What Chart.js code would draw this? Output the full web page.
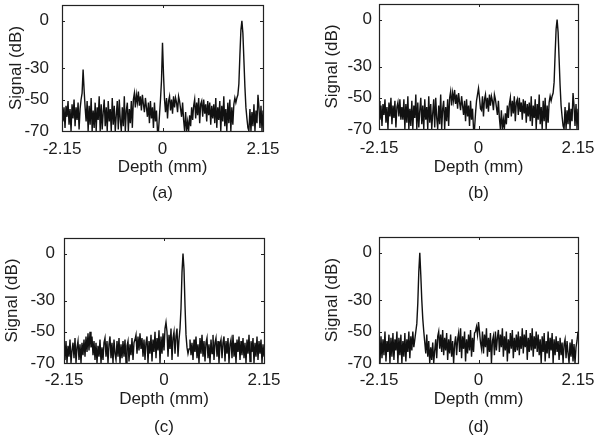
<!DOCTYPE html>
<html>
<head>
<meta charset="utf-8">
<script src="https://cdn.jsdelivr.net/npm/chart.js@4.4.1/dist/chart.umd.min.js"></script>
<style>
  html, body { margin: 0; padding: 0; background: #fff; }
  #wrap { position: relative; width: 600px; height: 441px; }
  canvas { position: absolute; }
</style>
</head>
<body>
<div id="wrap">
  <canvas id="ca" width="300" height="220" style="left:0;top:0;width:300px;height:220px"></canvas>
  <canvas id="cb" width="300" height="220" style="left:300px;top:0;width:300px;height:220px"></canvas>
  <canvas id="cc" width="300" height="221" style="left:0;top:220px;width:300px;height:221px"></canvas>
  <canvas id="cd" width="300" height="221" style="left:300px;top:220px;width:300px;height:221px"></canvas>
</div>
<script>
// ---- data ----
const depthMin = -2.15;
const depthMax = 2.15;
const sampleCount = 201;
const xTickValues = [-2.15, 0, 2.15];
const xTickLabels = ['-2.15', '0', '2.15'];
const yTickValues = [-70, -50, -30, 0];
const yTickLabels = ['-70', '-50', '-30', '0'];
const panelCaptions = ['(a)', '(b)', '(c)', '(d)'];
const xTitle = 'Depth (mm)';
const yTitle = 'Signal (dB)';

const signalA = [
  -52,-64,-55,-68,-54,-61,-51,-66,-56,-70,-53,-62,-50,-67,-55,-63,-52,-69,-56,
  -50,-46,-31,-44,-55,
  -64,-51,-70,-54,-66,-49,-70,-57,-68,-52,-70,-55,-63,-48,-70,-53,-69,-58,-50,-67,-55,-70,-51,-64,-56,-70,-49,-66,-54,-70,-60,-51,-69,-50,-63,-70,-55,-67,-48,-70,-57,-52,-70,-56,-65,-51,-68,
  -50,-46,-55,-47,-52,-45,-54,-48,-57,-47,-53,-58,-49,-55,-61,
  -52,-65,-51,-62,-55,-68,-52,-64,-57,-70,-70,-60,
  -50,-38,-14,-34,-50,
  -58,-49,-62,-51,-48,-57,-50,-59,-48,-55,-49,-52,-58,-48,-51,-56,-61,-52,
  -63,-70,-58,-70,-64,-70,-60,-67,-55,-63,
  -54,-50,-62,-52,-60,-49,-65,-53,-51,-61,-50,-59,-53,-64,-51,-60,-52,-66,-54,-62,
  -53,-65,-49,-68,-55,-63,-51,-70,-54,-64,-48,-67,-56,-70,-52,-65,-50,-70,-55,-66,-53,-49,
  -52,-49,-47,-40,-22,-6,0,-8,-25,-42,-55,-62,-68,
  -70,-56,-70,-58,-67,-53,-70,-57,-65,-47,-55,-68,-54,-70,-57
];

const signalB = [
  -52,-64,-55,-68,-54,-61,-51,-66,-56,-70,-53,-62,-50,-67,-55,-63,-52,-69,-56,
  -53,-62,-51,-64,-56,
  -64,-51,-70,-54,-66,-49,-70,-57,-68,-52,-70,-55,-63,-48,-70,-53,-69,-58,-50,-67,-55,-70,-51,-64,-56,-70,-49,-66,-54,-70,-60,-51,-69,-50,-63,-70,-55,-67,-48,-70,-57,-52,-70,-56,-65,-51,-68,
  -50,-46,-55,-47,-52,-45,-54,-48,-57,-47,-53,-58,-49,-55,-61,
  -52,-65,-51,-62,-55,-68,-52,-64,-57,-70,-70,-60,
  -52,-48,-44,-50,-57,
  -58,-49,-62,-51,-48,-57,-50,-59,-48,-55,-49,-52,-58,-48,-51,-56,-61,-52,
  -63,-70,-58,-70,-64,-70,-60,-67,-55,-63,
  -54,-50,-62,-52,-60,-49,-65,-53,-51,-61,-50,-59,-53,-64,-51,-60,-52,-66,-54,-62,
  -53,-65,-49,-68,-55,-63,-51,-70,-54,-64,-48,-67,-56,-70,-52,-65,-50,-70,-55,-66,-53,-49,
  -52,-49,-47,-40,-22,-6,0,-8,-25,-42,-55,-62,-68,
  -70,-56,-70,-58,-67,-53,-70,-57,-65,-47,-55,-68,-54,-70,-57
];

const signalC = [
  -58,-68,-56,-70,-59,-66,-55,-70,-62,-57,-67,-54,-70,-60,-56,-68,-58,-70,-57,-65,
  -55,-66,-53,-63,-51,-62,-50,-60,-53,-65,-56,-68,-57,-70,-59,-66,-55,-70,-60,-68,
  -57,-54,-66,-56,-70,-58,-53,-67,-57,-70,-55,-64,-68,-56,-66,-54,-70,-58,-67,-56,
  -66,-55,-70,-59,-56,-69,-58,-65,-54,-68,-57,-55,-52,-64,-53,-62,-51,-61,-54,-66,
  -55,-68,-57,-53,-70,-56,-64,-52,-69,-55,-63,-50,-67,-54,-62,-49,-70,-53,-64,-51,
  -62,-48,-44,-50,-66,-52,-61,-48,-68,-54,-50,-64,-53,-48,-66,-55,-48,-35,-12,0,
  -10,-33,-52,-60,-64,-61,-55,-65,-57,-68,-55,-63,-53,-67,-58,-70,-54,-64,-52,-66,
  -56,-69,-57,-54,-67,-58,-70,-55,-64,-52,-68,-57,-54,-66,-56,-70,-58,-55,-67,-57,
  -53,-69,-56,-64,-54,-70,-58,-55,-67,-52,-66,-57,-70,-55,-63,-53,-68,-56,-65,-54,
  -67,-57,-70,-55,-64,-52,-69,-56,-63,-54,-70,-57,-66,-53,-68,-56,-64,-55,-70,-58,-66
];

const signalD = [
  -58,-70,-53,-67,-55,-65,-50,-69,-56,-63,-52,-70,-54,-66,-51,-68,-55,-62,-50,-70,
  -54,-65,-52,-70,-56,-66,-51,-69,-55,-63,-50,-67,-53,-62,-50,-60,-55,-50,-45,-32,
  -12,0,-14,-30,-42,-50,-57,-64,-52,-66,-56,-70,-60,-68,-57,-70,-62,-55,-67,-53,
  -50,-61,-52,-63,-49,-65,-54,-62,-51,-68,-55,-64,-52,-66,-56,-70,-58,-53,-65,-55,
  -51,-63,-48,-67,-53,-61,-50,-69,-55,-64,-52,-62,-49,-66,-54,-63,-51,-50,-47,-52,
  -44,-50,-57,-61,-50,-64,-52,-60,-48,-66,-54,-63,-51,-70,-56,-53,-65,-50,-62,-54,
  -49,-63,-52,-60,-48,-66,-53,-62,-50,-69,-55,-64,-51,-61,-49,-67,-54,-63,-52,-62,
  -50,-65,-53,-61,-48,-64,-52,-60,-49,-68,-54,-63,-51,-62,-48,-66,-53,-61,-50,-63,
  -52,-65,-55,-70,-53,-63,-51,-69,-56,-64,-50,-67,-54,-62,-51,-70,-55,-65,-53,-63,
  -56,-68,-54,-65,-57,-70,-58,-55,-67,-56,-64,-70,-57,-66,-55,-69,-58,-70,-60,-56,-50
];

// ---- layout / style per panel ----
const panels = [
  { id: 'ca', data: signalA, cap: panelCaptions[0], H: 220, left: 62, right: 263, top: 5,  bottom: 131, yTitlePad: 6,  yTickPad: 13, xTickPad: 8, lh: 26, xTitlePad: 14 },
  { id: 'cb', data: signalB, cap: panelCaptions[1], H: 220, left: 79, right: 278, top: 4,  bottom: 129, yTitlePad: 22, yTickPad: 7,  xTickPad: 9, lh: 26, xTitlePad: 14 },
  { id: 'cc', data: signalC, cap: panelCaptions[2], H: 221, left: 64, right: 264, top: 18, bottom: 143, yTitlePad: 2,  yTickPad: 9,  xTickPad: 7, lh: 28, xTitlePad: 0 },
  { id: 'cd', data: signalD, cap: panelCaptions[3], H: 221, left: 79, right: 278, top: 17, bottom: 143, yTitlePad: 22, yTickPad: 7,  xTickPad: 7, lh: 28, xTitlePad: 0 }
];

const FONT = "'Liberation Sans', Arial, Helvetica, sans-serif";
const TEXT = '#1c1c1c';

const frameAndTicks = {
  id: 'frameAndTicks',
  afterDatasetsDraw(chart) {
    const { ctx, chartArea: a, scales } = chart;
    ctx.save();
    ctx.strokeStyle = '#222';
    ctx.lineWidth = 1;
    ctx.beginPath();
    const tl = 3;
    scales.x.ticks.forEach(t => {
      const px = Math.round(scales.x.getPixelForValue(t.value)) + 0.5;
      ctx.moveTo(px, a.bottom); ctx.lineTo(px, a.bottom - tl);
      ctx.moveTo(px, a.top); ctx.lineTo(px, a.top + tl);
    });
    scales.y.ticks.forEach(t => {
      const py = Math.round(scales.y.getPixelForValue(t.value)) + 0.5;
      ctx.moveTo(a.left, py); ctx.lineTo(a.left + tl, py);
      ctx.moveTo(a.right, py); ctx.lineTo(a.right - tl, py);
    });
    ctx.stroke();
    ctx.lineWidth = 1.2;
    ctx.strokeRect(Math.round(a.left) + 0.5, Math.round(a.top) + 0.5,
                   Math.round(a.right - a.left), Math.round(a.bottom - a.top));
    ctx.restore();
  }
};

const step = (depthMax - depthMin) / (sampleCount - 1);

panels.forEach(p => {
  const points = p.data.map((v, i) => ({ x: depthMin + i * step, y: v }));
  new Chart(document.getElementById(p.id), {
    type: 'line',
    data: {
      datasets: [{
        data: points,
        borderColor: '#111',
        borderWidth: 1.4,
        pointRadius: 0,
        tension: 0,
        fill: false
      }]
    },
    options: {
      responsive: false,
      animation: false,
      events: [],
      layout: { padding: { left: 0, right: 300 - p.right, top: p.top, bottom: 0 } },
      plugins: { legend: { display: false }, tooltip: { enabled: false }, title: { display: false } },
      scales: {
        x: {
          type: 'linear',
          min: depthMin,
          max: depthMax,
          grid: { display: false, drawTicks: false },
          border: { display: false },
          afterBuildTicks: s => { s.ticks = xTickValues.map(v => ({ value: v })); },
          afterFit: s => { s.height = p.H - p.bottom; s.paddingLeft = 0; s.paddingRight = 0; },
          ticks: {
            autoSkip: false,
            maxRotation: 0,
            padding: p.xTickPad,
            color: TEXT,
            font: { family: FONT, size: 17 },
            callback: (v, i) => xTickLabels[i]
          },
          title: {
            display: true,
            text: [xTitle, p.cap],
            color: TEXT,
            font: { family: FONT, size: 17, lineHeight: p.lh + 'px' },
            padding: { top: 0, bottom: p.xTitlePad }
          }
        },
        y: {
          type: 'linear',
          min: -70,
          max: 10,
          grid: { display: false, drawTicks: false },
          border: { display: false },
          afterBuildTicks: s => { s.ticks = yTickValues.map(v => ({ value: v })); },
          afterFit: s => { s.width = p.left; s.paddingTop = 0; s.paddingBottom = 0; },
          ticks: {
            autoSkip: false,
            padding: p.yTickPad,
            color: TEXT,
            font: { family: FONT, size: 17 },
            callback: (v, i) => yTickLabels[i]
          },
          title: {
            display: true,
            text: yTitle,
            color: TEXT,
            font: { family: FONT, size: 17 },
            padding: { top: p.yTitlePad, bottom: 0 }
          }
        }
      }
    },
    plugins: [frameAndTicks]
  });
});
</script>
</body>
</html>
